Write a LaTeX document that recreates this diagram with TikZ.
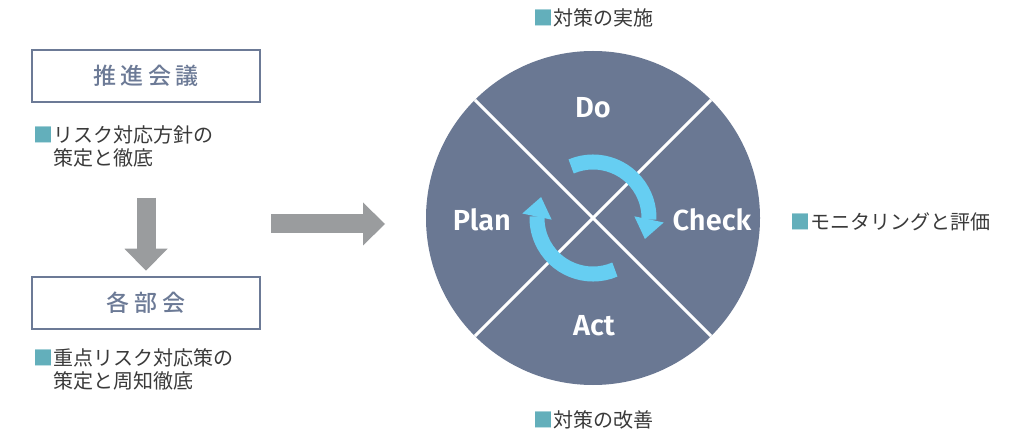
\documentclass[tikz,border=0pt]{standalone}
\usepackage{fontspec}
\newfontfamily\jpfont{Noto Sans CJK JP}
\newfontfamily\jpwide[LetterSpace=20, UprightFont=* Medium]{Noto Sans CJK JP}
\newfontfamily\pdcafont[UprightFont=* SemiBold]{Fira Sans}
\usetikzlibrary{arrows.meta,bending,calc}

\definecolor{pdcablue}{HTML}{6A7893}
\definecolor{boxblue}{HTML}{6C7A96}
\definecolor{loopcyan}{HTML}{66CEF2}
\definecolor{flowgray}{HTML}{9A9C9E}
\definecolor{markteal}{HTML}{63AFBB}
\definecolor{notegray}{HTML}{3A3A3A}

\newcommand\sqmark{\textcolor{markteal}{■}}

\tikzset{
  councilbox/.style={draw=boxblue, line width=2.5pt, minimum width=228pt,
    minimum height=52pt, inner sep=0pt, text=boxblue,
    font=\jpwide\fontsize{23}{23}\selectfont},
  notetext/.style={anchor=base west, align=left, inner sep=0pt, text=notegray,
    font=\jpfont\fontsize{20}{23}\selectfont},
  phaselabel/.style={text=white, inner sep=0pt,
    font=\pdcafont\fontsize{29}{29}\selectfont},
  flowarrow/.style={flowgray, line width=19pt,
    -{Triangle[length=22pt,width=43pt,line width=0pt]}},
  turnarrow/.style={loopcyan, line width=15pt,
    -{Triangle[length=20pt,width=30pt,line width=0pt]}},
}

\begin{document}
\begin{tikzpicture}[x=1pt,y=1pt]
\useasboundingbox (0,0) rectangle (1017,434);

% left column: meetings and what they decide
% (base of a two-line note sits on its last line)
\node[councilbox] (suishin) at (146,358) {推進会議};
\node[notetext] (note1) at (33,268.4) {\sqmark リスク対応方針の\\\phantom{\sqmark}策定と徹底};
\node[councilbox] (bukai) at (146,131) {各部会};
\node[notetext] (note2) at (33,45.4) {\sqmark 重点リスク対応策の\\\phantom{\sqmark}策定と周知徹底};

% PDCA wheel
\node[circle, fill=pdcablue, minimum size=334pt, inner sep=0pt, outer sep=0pt] (pdca) at (593,216) {};
\draw[white, line width=3pt] (pdca.north west) -- (pdca.south east);
\draw[white, line width=3pt] (pdca.north east) -- (pdca.south west);

\node[phaselabel] (do) at (593,326) {Do};
\node[phaselabel] (plan) at (482,214) {Plan};
\node[phaselabel] (check) at (712,214) {Check};
\node[phaselabel] (act) at (594,108) {Act};

% turning arrows in the middle
\draw[turnarrow] ($(pdca.center)+(113:56)$) arc[start angle=113, end angle=-22, radius=56];
\draw[turnarrow] ($(pdca.center)+(-67:56)$) arc[start angle=-67, end angle=-202, radius=56];

% gray flow arrows
\draw[flowarrow] ([yshift=-30pt]suishin.south |- note1.south) -- ([yshift=5pt]bukai.north);
\draw[flowarrow] ([xshift=10pt,yshift=-6pt]suishin.east |- pdca.west) -- ([xshift=-41pt,yshift=-6pt]pdca.west);

% captions around the wheel
\node[notetext] (jisshi) at (533,408.4) {\sqmark 対策の実施};
\node[notetext] (hyoka) at (790,204.4) {\sqmark モニタリングと評価};
\node[notetext] (kaizen) at (533,6.4) {\sqmark 対策の改善};
\end{tikzpicture}
\end{document}
